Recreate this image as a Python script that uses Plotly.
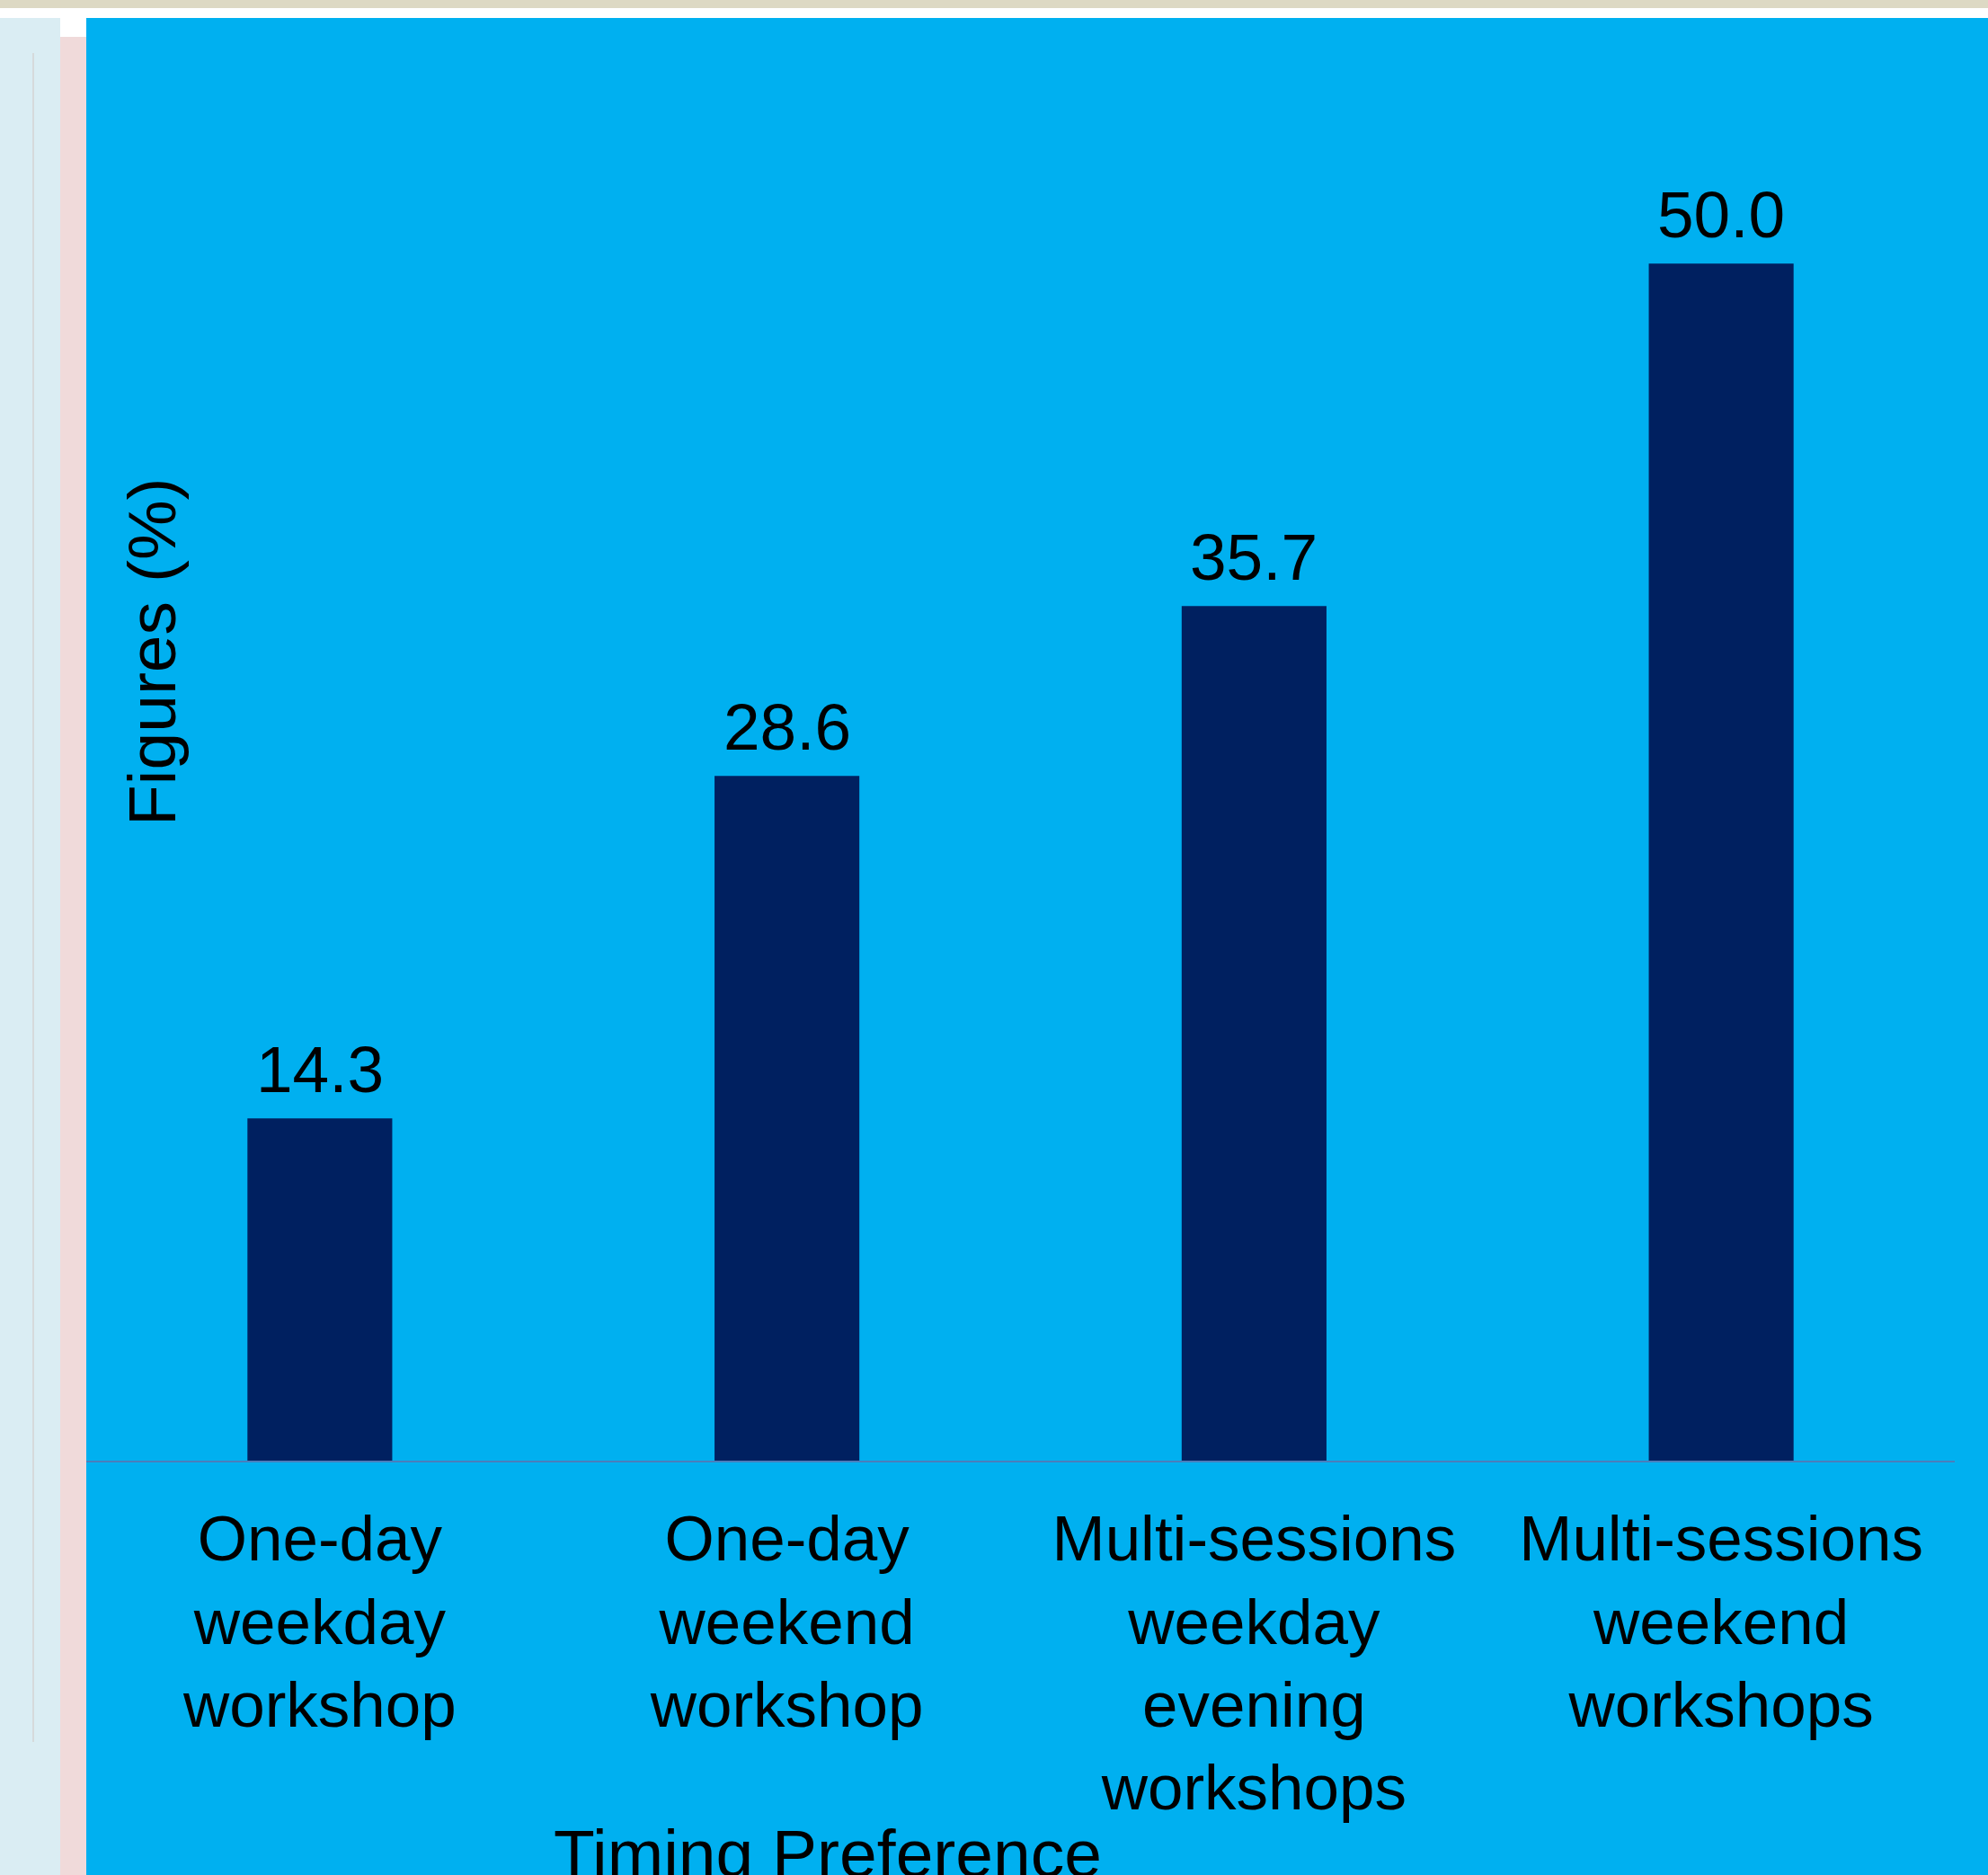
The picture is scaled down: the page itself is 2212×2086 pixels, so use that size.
import plotly.graph_objects as go

categories = ["One-day weekday workshop", "One-day weekend workshop",
              "Multi-sessions weekday evening workshops", "Multi-sessions weekend workshops"]
tick_labels = ["One-day<br>weekday<br>workshop", "One-day<br>weekend<br>workshop",
               "Multi-sessions<br>weekday<br>evening<br>workshops", "Multi-sessions<br>weekend<br>workshops"]
values = [14.3, 28.6, 35.7, 50.0]

W, H = 2212, 2086
ML, MR, MT, MB = 96, 37, 27, 461
PW = W - ML - MR
PH = H - MT - MB

def px_x(p):
    return (p - ML) / PW

def px_y(p):
    return (H - MB - p) / PH

FONT = "Liberation Sans, Arial, sans-serif"

fig = go.Figure()
fig.add_trace(go.Bar(
    x=categories, y=values, width=0.31,
    marker=dict(color="#002060", line=dict(width=0)),
    hoverinfo="x+y",
))

shapes = [
    dict(type="rect", xref="paper", yref="paper", x0=px_x(0), x1=px_x(W), y0=px_y(9), y1=px_y(0),
         fillcolor="#DDD9C4", line=dict(width=0), layer="above"),
    dict(type="rect", xref="paper", yref="paper", x0=px_x(0), x1=px_x(W), y0=px_y(20), y1=px_y(9),
         fillcolor="white", line=dict(width=0), layer="above"),
    dict(type="rect", xref="paper", yref="paper", x0=px_x(0), x1=px_x(67), y0=px_y(H), y1=px_y(20),
         fillcolor="#DAEDF3", line=dict(width=0), layer="above"),
    dict(type="rect", xref="paper", yref="paper", x0=px_x(67), x1=px_x(96), y0=px_y(H), y1=px_y(20),
         fillcolor="white", line=dict(width=0), layer="above"),
    dict(type="rect", xref="paper", yref="paper", x0=px_x(67), x1=px_x(96), y0=px_y(H), y1=px_y(41),
         fillcolor="#F0DADA", line=dict(width=0), layer="above"),
    dict(type="line", xref="paper", yref="paper", x0=px_x(37), x1=px_x(37), y0=px_y(1938), y1=px_y(59),
         line=dict(color="#D3D3D3", width=1.5), layer="above"),
]

annotations = [
    dict(text="Figures (%)", xref="paper", yref="paper", x=px_x(169), y=px_y(725),
         textangle=-90, showarrow=False, xanchor="center", yanchor="middle",
         font=dict(size=75, color="black", family=FONT)),
    dict(text="Timing Preference", xref="paper", yref="paper", x=px_x(921), y=px_y(2018),
         showarrow=False, xanchor="center", yanchor="top",
         font=dict(size=75, color="black", family=FONT)),
]
for c, v in zip(categories, values):
    annotations.append(dict(
        text=f"{v:.1f}", x=c, y=v, xref="x", yref="y", showarrow=False,
        xanchor="center", yanchor="bottom", yshift=12,
        font=dict(size=73, color="black", family=FONT)))

fig.update_layout(
    width=W, height=H,
    margin=dict(l=ML, r=MR, t=MT, b=MB, pad=0),
    paper_bgcolor="#00B0F0", plot_bgcolor="#00B0F0",
    showlegend=False,
    shapes=shapes, annotations=annotations,
    font=dict(family=FONT, color="black"),
)
fig.update_xaxes(
    type="category", tickvals=categories, ticktext=tick_labels, range=[-0.5, 3.5],
    showline=True, linecolor="#4A7EBB", linewidth=2, showgrid=False, zeroline=False,
    ticks="", tickfont=dict(size=71, color="black", family=FONT), ticklabelstandoff=24,
)
fig.update_yaxes(range=[0, 60], visible=False, showgrid=False, zeroline=False)

fig.write_html("out.html")
